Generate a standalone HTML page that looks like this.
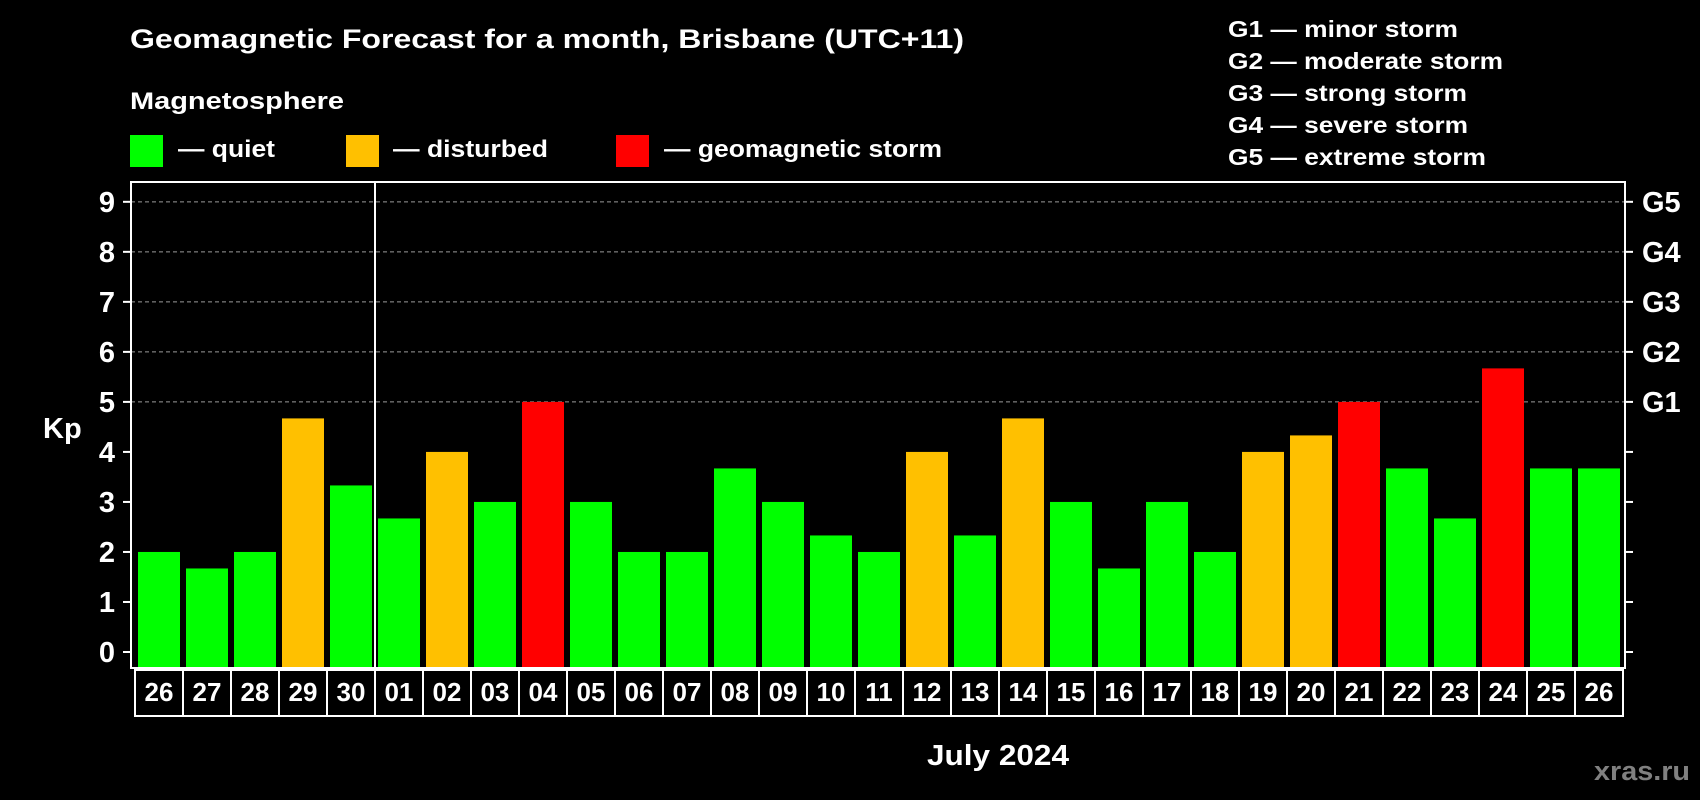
<!DOCTYPE html>
<html><head><meta charset="utf-8"><style>
html,body{margin:0;padding:0;background:#000;}
svg{display:block;font-family:"Liberation Sans",Arial,sans-serif;font-weight:bold;}
</style></head><body>
<svg id="chart" width="1700" height="800" viewBox="0 0 1700 800" xmlns="http://www.w3.org/2000/svg">
<rect x="0" y="0" width="1700" height="800" fill="#000"/>
<text x="130" y="48" font-size="27" fill="#fff" textLength="834" lengthAdjust="spacingAndGlyphs">Geomagnetic Forecast for a month, Brisbane (UTC+11)</text>
<text x="130" y="109" font-size="24" fill="#fff" textLength="214" lengthAdjust="spacingAndGlyphs">Magnetosphere</text>
<g>
<rect x="130" y="135" width="33" height="32" fill="#00ff00"/>
<text x="178" y="157" font-size="24" fill="#fff" textLength="97" lengthAdjust="spacingAndGlyphs">— quiet</text></g>
<g>
<rect x="346" y="135" width="33" height="32" fill="#ffc000"/>
<text x="393" y="157" font-size="24" fill="#fff" textLength="155" lengthAdjust="spacingAndGlyphs">— disturbed</text></g>
<g>
<rect x="616" y="135" width="33" height="32" fill="#ff0000"/>
<text x="664" y="157" font-size="24" fill="#fff" textLength="278" lengthAdjust="spacingAndGlyphs">— geomagnetic storm</text></g>
<g font-size="23" fill="#fff">
<text x="1228" y="37" textLength="230" lengthAdjust="spacingAndGlyphs">G1 — minor storm</text>
<text x="1228" y="69" textLength="275" lengthAdjust="spacingAndGlyphs">G2 — moderate storm</text>
<text x="1228" y="101" textLength="239" lengthAdjust="spacingAndGlyphs">G3 — strong storm</text>
<text x="1228" y="133" textLength="240" lengthAdjust="spacingAndGlyphs">G4 — severe storm</text>
<text x="1228" y="165" textLength="258" lengthAdjust="spacingAndGlyphs">G5 — extreme storm</text>
</g>
<g id="grid"></g>
<g id="bars"></g>
<g id="axes"></g>
<text x="43" y="438" font-size="29" fill="#fff">Kp</text>
<text x="998" y="765" font-size="29" fill="#fff" text-anchor="middle" textLength="142" lengthAdjust="spacingAndGlyphs">July 2024</text>
<text x="1690" y="780" font-size="27" fill="#808080" text-anchor="end" textLength="96" lengthAdjust="spacingAndGlyphs">xras.ru</text>
</svg>
<script>
const days = ["26","27","28","29","30","01","02","03","04","05","06","07","08","09","10","11","12","13","14","15","16","17","18","19","20","21","22","23","24","25","26"];
const kpValues = [2,1.67,2,4.67,3.33,2.67,4,3,5,3,2,2,3.67,3,2.33,2,4,2.33,4.67,3,1.67,3,2,4,4.33,5,3.67,2.67,5.67,3.67,3.67];
const levels = ["quiet","quiet","quiet","disturbed","quiet","quiet","disturbed","quiet","storm","quiet","quiet","quiet","quiet","quiet","quiet","quiet","disturbed","quiet","disturbed","quiet","quiet","quiet","quiet","disturbed","disturbed","storm","quiet","quiet","storm","quiet","quiet"];
const yTicks = [0,1,2,3,4,5,6,7,8,9];
const gLabels = ["","","","","","G1","G2","G3","G4","G5"];
const monthStartIndex = 5;

const NS="http://www.w3.org/2000/svg";
const colorOf={quiet:"#00ff00",disturbed:"#ffc000",storm:"#ff0000"};
const plotL=131,plotR=1625,plotT=182,plotB=668,pitch=48,firstX=138,barW=42;
const y=v=>652-v*50.02;
const x=i=>firstX+i*pitch;
function mk(tag,attrs,parent){const e=document.createElementNS(NS,tag);for(const k in attrs)e.setAttribute(k,attrs[k]);parent.appendChild(e);return e;}
const grid=document.getElementById('grid'),bars=document.getElementById('bars'),axes=document.getElementById('axes');
yTicks.forEach(t=>{
  if(t>=5){const l=mk('line',{x1:plotL,x2:plotR,y1:y(t),y2:y(t),stroke:'#999','stroke-dasharray':'4,3','stroke-width':1},grid);
  
  }
  const tl=mk('line',{x1:plotL-8,x2:plotL,y1:y(t),y2:y(t),stroke:'#fff','stroke-width':2},axes);
  
  
  const tr=mk('line',{x1:plotR,x2:plotR+8,y1:y(t),y2:y(t),stroke:'#fff','stroke-width':2},axes);
  
  
  const lb=mk('text',{x:115,y:y(t)+10,'font-size':29,fill:'#fff','text-anchor':'end'},axes);lb.textContent=t;
  
  
  if(gLabels[t]){const g=mk('text',{x:1642,y:y(t)+10,'font-size':29,fill:'#fff'},axes);g.textContent=gLabels[t];
  
  }
});
kpValues.forEach((v,i)=>{
  const r=mk('rect',{x:x(i),y:y(v),width:barW,height:plotB-y(v),fill:colorOf[levels[i]]},bars);
  
  
  const b=mk('rect',{x:135+i*pitch,y:670,width:pitch,height:46,fill:'none',stroke:'#fff','stroke-width':2},axes);
  
  
  const t=mk('text',{x:x(i)+barW/2,y:701,'font-size':26,fill:'#fff','text-anchor':'middle'},axes);t.textContent=days[i];
  
  
});
const frame=mk('rect',{x:plotL,y:plotT,width:plotR-plotL,height:plotB-plotT,fill:'none',stroke:'#fff','stroke-width':2},axes);


const dv=x(monthStartIndex)-3;
const div=mk('line',{x1:dv,x2:dv,y1:plotT,y2:plotB,stroke:'#fff','stroke-width':2},axes);


</script>
</body></html>
